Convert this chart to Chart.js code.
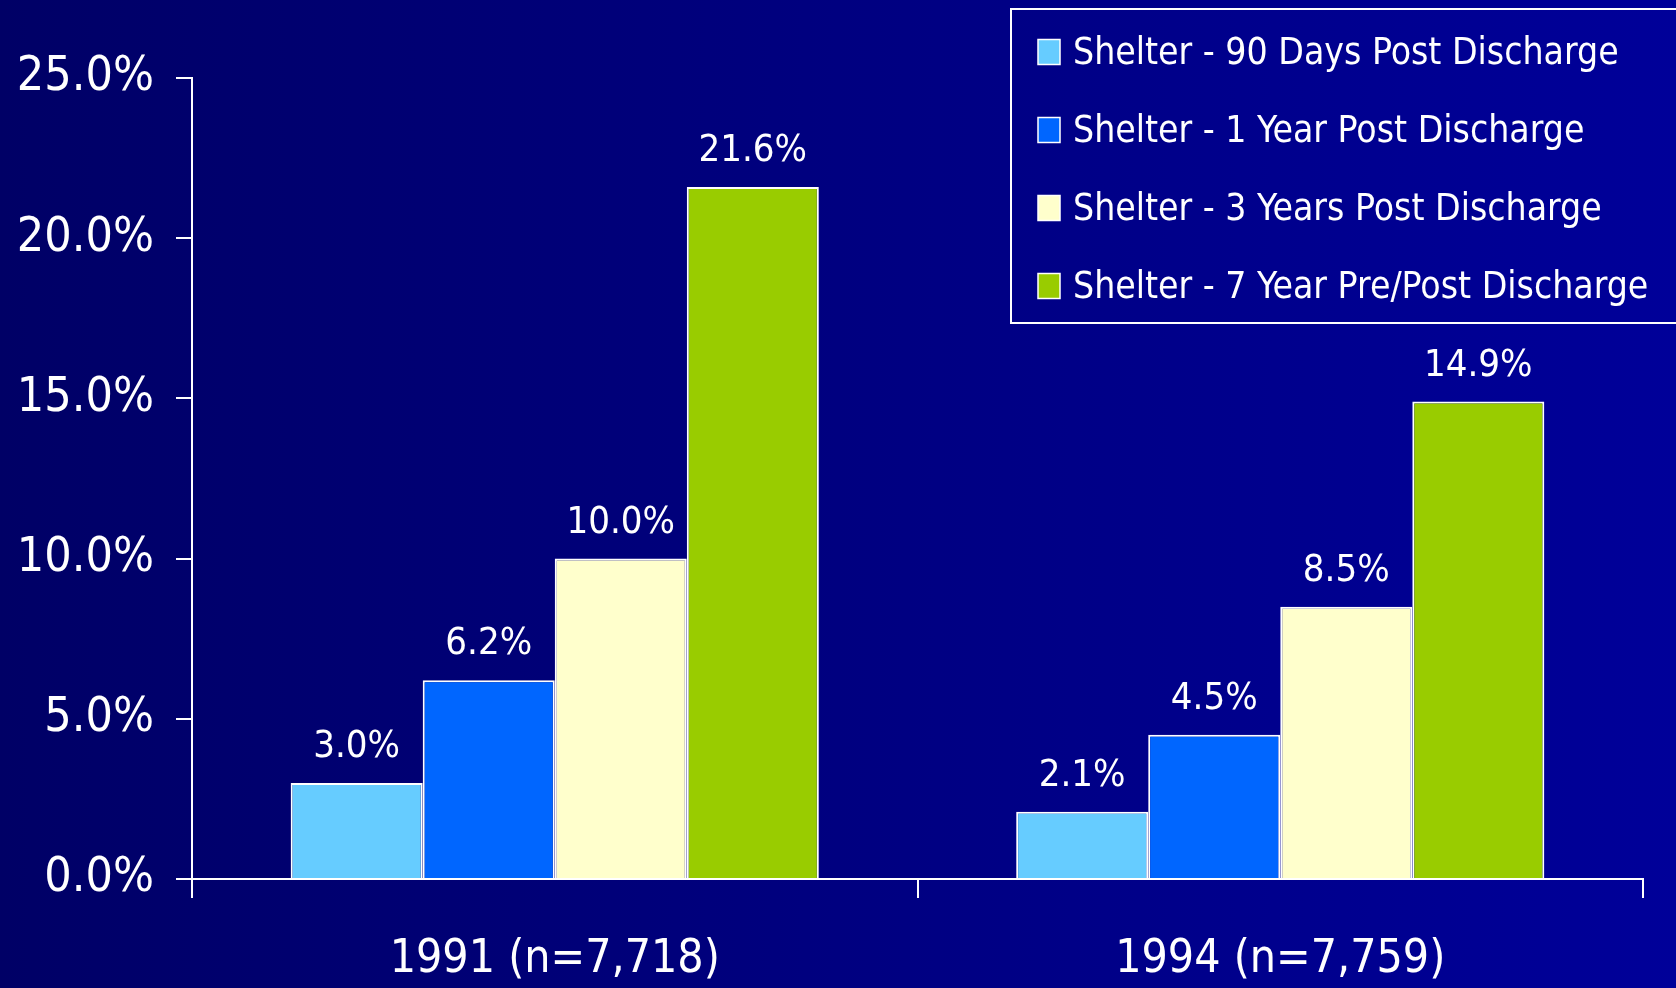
<!DOCTYPE html>
<html>
<head>
<meta charset="utf-8">
<script src="https://cdn.jsdelivr.net/npm/chart.js@4.4.1/dist/chart.umd.min.js"></script>
<style>
  html, body { margin: 0; padding: 0; }
  body { width: 1676px; height: 988px; overflow: hidden;
         background: linear-gradient(to right, #000066 0%, #000080 50%, #000099 100%); }
  canvas { display: block; }
</style>
</head>
<body>
<canvas id="c" width="1676" height="988"></canvas>
<script>
// ---- data ----
const categories = ['1991 (n=7,718)', '1994 (n=7,759)'];
const seriesLabels = [
  'Shelter - 90 Days Post Discharge',
  'Shelter - 1 Year Post Discharge',
  'Shelter - 3 Years Post Discharge',
  'Shelter - 7 Year Pre/Post Discharge'
];
const shelter90Days = [3.0, 2.1];
const shelter1Year = [6.2, 4.5];
const shelter3Years = [10.0, 8.5];
const shelter7Year = [21.6, 14.9];
const yTicks = [0, 5, 10, 15, 20, 25];

// ---- styles ----
const FONT = "'DejaVu Sans Condensed', 'DejaVu Sans', sans-serif";
const colors = ['#66CCFF', '#0066FF', '#FFFFCC', '#99CC00'];
const seriesValues = [shelter90Days, shelter1Year, shelter3Years, shelter7Year];

const datasets = seriesValues.map((vals, i) => ({
  label: seriesLabels[i],
  data: vals,
  backgroundColor: colors[i],
  borderColor: '#FFFFFF',
  borderWidth: 2,
  barPercentage: 1.0,
  categoryPercentage: 0.728
}));

const valueLabels = {
  id: 'valueLabels',
  afterDatasetsDraw(chart) {
    const ctx = chart.ctx;
    ctx.save();
    ctx.fillStyle = '#FFFFFF';
    ctx.font = '38px ' + FONT;
    ctx.textAlign = 'center';
    ctx.textBaseline = 'alphabetic';
    chart.data.datasets.forEach((ds, di) => {
      const meta = chart.getDatasetMeta(di);
      meta.data.forEach((bar, j) => {
        ctx.fillText(ds.data[j].toFixed(1) + '%', bar.x, bar.y - 26);
      });
    });
    ctx.restore();
  }
};

const boxLegend = {
  id: 'boxLegend',
  afterDraw(chart) {
    const ctx = chart.ctx;
    ctx.save();
    ctx.strokeStyle = '#FFFFFF';
    ctx.lineWidth = 2;
    ctx.strokeRect(1011, 9, 700, 314);
    const rows = [52, 130, 208, 286];
    ctx.font = '37px ' + FONT;
    ctx.textAlign = 'left';
    ctx.textBaseline = 'middle';
    chart.data.datasets.forEach((ds, i) => {
      const cy = rows[i];
      ctx.fillStyle = ds.backgroundColor;
      ctx.fillRect(1038, cy - 12.5, 22, 25);
      ctx.lineWidth = 1.5;
      ctx.strokeStyle = '#FFFFFF';
      ctx.strokeRect(1038, cy - 12.5, 22, 25);
      ctx.fillStyle = '#FFFFFF';
      ctx.fillText(ds.label, 1073, cy + 2);
    });
    ctx.restore();
  }
};

Chart.defaults.font.family = FONT;
Chart.defaults.color = '#FFFFFF';

new Chart(document.getElementById('c'), {
  type: 'bar',
  data: { labels: categories, datasets },
  options: {
    responsive: false,
    animation: false,
    layout: { padding: { left: 0, right: 33, top: 78, bottom: 0 } },
    plugins: {
      legend: { display: false },
      tooltip: { enabled: false }
    },
    scales: {
      x: {
        grid: { offset: true, drawOnChartArea: false, color: '#FFFFFF', lineWidth: 2, tickLength: 19 },
        border: { color: '#FFFFFF', width: 2 },
        ticks: { color: '#FFFFFF', font: { size: 46, lineHeight: 1.2 }, padding: 34, maxRotation: 0 },
        afterFit(scale) { scale.height = 109; }
      },
      y: {
        min: 0, max: 25,
        afterBuildTicks(scale) { scale.ticks = yTicks.map(v => ({ value: v })); },
        grid: { drawOnChartArea: false, color: '#FFFFFF', lineWidth: 2, tickLength: 16 },
        border: { color: '#FFFFFF', width: 2 },
        ticks: { color: '#FFFFFF', font: { size: 48 }, padding: 22,
                 callback: v => Number(v).toFixed(1) + '%' },
        afterFit(scale) { scale.width = 192; }
      }
    }
  },
  plugins: [valueLabels, boxLegend]
});
</script>
</body>
</html>
